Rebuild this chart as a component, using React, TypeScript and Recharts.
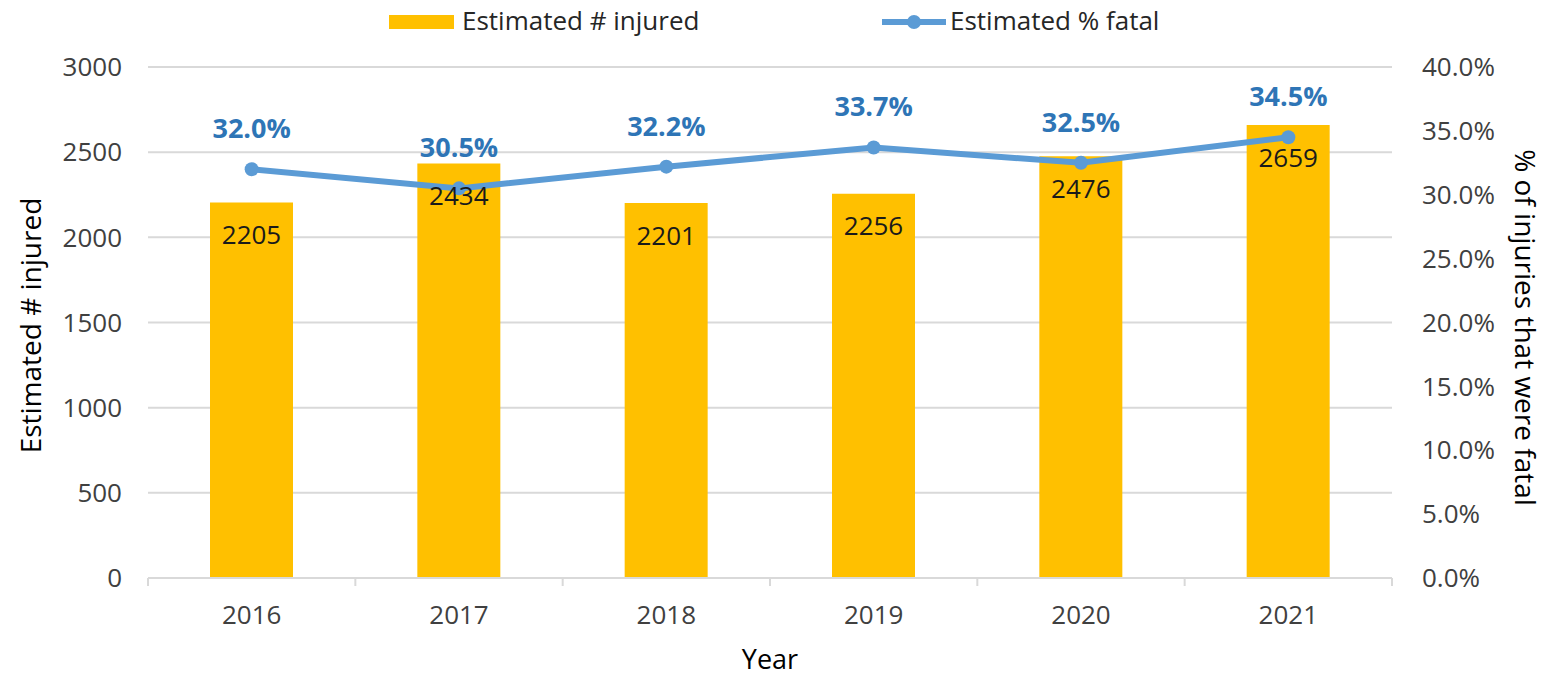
import React from 'react';
import { ComposedChart, Bar, Line, XAxis, YAxis, CartesianGrid, LabelList } from 'recharts';

const years = ['2016', '2017', '2018', '2019', '2020', '2021'];
const injured = [2205, 2434, 2201, 2256, 2476, 2659];
const pctFatal = [32.0, 30.5, 32.2, 33.7, 32.5, 34.5];
const leftTicks = [0, 500, 1000, 1500, 2000, 2500, 3000];
const rightTicks = [0, 5, 10, 15, 20, 25, 30, 35, 40];

const data = years.map((year, i) => ({ year, injured: injured[i], pct: pctFatal[i] }));

const FONT = '"Open Sans", sans-serif';
const TEXT = '#404040';
const GRID = '#d9d9d9';
const BAR = '#FFC000';
const LINE = '#5B9BD5';
const LABEL_BLUE = '#2E75B6';

// plot width split into equal bands; used for the Excel-style boundary ticks
const PLOT_W = 1552 - 148 - 160;
const STEP = PLOT_W / years.length;

const pctFmt = (v: number) => `${Number(v).toFixed(1)}%`;

function YearTick(props: any) {
  const { x, y, payload, index } = props;
  const axisY = y - 28;
  return (
    <g>
      <line x1={x - STEP / 2} y1={axisY} x2={x - STEP / 2} y2={axisY + 8} stroke={GRID} strokeWidth={2} />
      {index === years.length - 1 && (
        <line x1={x + STEP / 2} y1={axisY} x2={x + STEP / 2} y2={axisY + 8} stroke={GRID} strokeWidth={2} />
      )}
      <text x={x} y={y} dy="0.71em" textAnchor="middle" fill={TEXT} fontSize={26} fontFamily={FONT}>
        {payload.value}
      </text>
    </g>
  );
}

export default function App() {
  return (
    <div style={{ position: 'relative', width: 1552, height: 677, background: '#fff', fontFamily: FONT }}>
      <style>{`body{margin:0}`}</style>

      {/* legend */}
      <div style={{ position: 'absolute', left: 389, top: 15, width: 65, height: 14, background: BAR }} />
      <div style={{ position: 'absolute', left: 462, top: 3, fontSize: 26, color: '#262626', lineHeight: '34px' }}>
        Estimated # injured
      </div>
      <svg style={{ position: 'absolute', left: 880, top: 10 }} width={68} height={24}>
        <line x1={2} y1={12} x2={66} y2={12} stroke={LINE} strokeWidth={6} />
        <circle cx={34} cy={12} r={7} fill={LINE} />
      </svg>
      <div style={{ position: 'absolute', left: 950, top: 3, fontSize: 26, color: '#262626', lineHeight: '34px' }}>
        Estimated % fatal
      </div>

      <ComposedChart
        width={1552}
        height={677}
        data={data}
        margin={{ top: 67, right: 50, bottom: 39, left: 48 }}
        barSize={83}
      >
        <CartesianGrid vertical={false} stroke={GRID} strokeWidth={2} yAxisId="left" />
        <XAxis
          dataKey="year"
          height={60}
          axisLine={{ stroke: GRID, strokeWidth: 2 }}
          tickLine={false}
          tickSize={6}
          tickMargin={22}
          tick={<YearTick />}
          label={{
            content: ({ viewBox }: any) => (
              <text
                x={viewBox.x + viewBox.width / 2}
                y={viewBox.y + 80}
                textAnchor="middle"
                dominantBaseline="central"
                fontSize={27}
                fill="#000"
                fontFamily={FONT}
              >
                Year
              </text>
            ),
          }}
        />
        <YAxis
          yAxisId="left"
          width={100}
          domain={[0, 3000]}
          ticks={leftTicks}
          axisLine={false}
          tickLine={false}
          tickMargin={20}
          tick={{ fill: TEXT, fontSize: 26, fontFamily: FONT }}
          label={{
            content: ({ viewBox }: any) => {
              const cx = viewBox.x - 18;
              const cy = viewBox.y + viewBox.height / 2 + 3;
              return (
                <text
                  x={cx}
                  y={cy}
                  transform={`rotate(-90 ${cx} ${cy})`}
                  textAnchor="middle"
                  dominantBaseline="central"
                  fontSize={28}
                  fill="#000"
                  fontFamily={FONT}
                >
                  Estimated # injured
                </text>
              );
            },
          }}
        />
        <YAxis
          yAxisId="right"
          orientation="right"
          width={110}
          domain={[0, 40]}
          ticks={rightTicks}
          tickFormatter={pctFmt}
          axisLine={false}
          tickLine={false}
          tickMargin={24}
          tick={{ fill: TEXT, fontSize: 26, fontFamily: FONT }}
          label={{
            content: ({ viewBox }: any) => {
              const cx = viewBox.x + 134;
              const cy = viewBox.y + viewBox.height / 2 + 5;
              return (
                <text
                  x={cx}
                  y={cy}
                  transform={`rotate(90 ${cx} ${cy})`}
                  textAnchor="middle"
                  dominantBaseline="central"
                  fontSize={28}
                  fill="#000"
                  fontFamily={FONT}
                >
                  % of injuries that were fatal
                </text>
              );
            },
          }}
        />
        <Bar yAxisId="left" dataKey="injured" fill={BAR} isAnimationActive={false}>
          <LabelList
            dataKey="injured"
            position="insideTop"
            offset={23}
            fill="#1a1a1a"
            fontSize={26}
            fontFamily={FONT}
          />
        </Bar>
        <Line
          yAxisId="right"
          type="linear"
          dataKey="pct"
          stroke={LINE}
          strokeWidth={6}
          dot={{ r: 7, fill: LINE, stroke: LINE, strokeWidth: 0 }}
          activeDot={false}
          isAnimationActive={false}
        >
          <LabelList
            dataKey="pct"
            position="top"
            offset={31}
            formatter={pctFmt}
            fill={LABEL_BLUE}
            fontSize={27}
            fontWeight="bold"
            fontFamily={FONT}
          />
        </Line>
      </ComposedChart>
    </div>
  );
}
